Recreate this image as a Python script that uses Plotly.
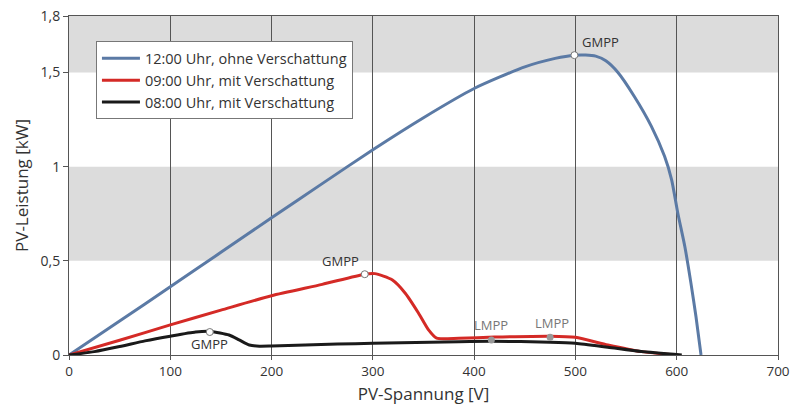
import plotly.graph_objects as go

# --- data ---
v_blue = [0, 50, 100, 150, 200, 250, 300, 350, 400, 450, 480, 499, 510, 520, 530, 542, 558, 575, 588, 595, 601, 608, 614, 619, 624]
p_blue = [0, 0.18, 0.362, 0.545, 0.729, 0.91, 1.09, 1.26, 1.415, 1.53, 1.575, 1.592, 1.593, 1.587, 1.562, 1.5, 1.374, 1.214, 1.055, 0.93, 0.755, 0.576, 0.383, 0.204, 0]

v_red = [0, 50, 100, 150, 200, 250, 292, 302, 319, 332, 345, 355, 363, 385, 420, 475, 500, 532, 565, 600]
p_red = [0, 0.078, 0.16, 0.238, 0.315, 0.375, 0.429, 0.432, 0.399, 0.328, 0.223, 0.133, 0.089, 0.089, 0.095, 0.1, 0.094, 0.053, 0.018, 0]

v_black = [0, 25, 50, 75, 100, 125, 140, 158, 168, 178, 188, 200, 265, 300, 385, 417, 475, 500, 532, 565, 605]
p_black = [0, 0.018, 0.045, 0.075, 0.1, 0.122, 0.125, 0.106, 0.08, 0.053, 0.047, 0.048, 0.058, 0.062, 0.071, 0.073, 0.068, 0.062, 0.041, 0.018, 0]

names = ["12:00 Uhr, ohne Verschattung", "09:00 Uhr, mit Verschattung", "08:00 Uhr, mit Verschattung"]
colors = ["#5b7aa5", "#d42a26", "#1a1a1a"]

gmpp_v = [499, 292, 139]
gmpp_p = [1.592, 0.429, 0.122]
lmpp_v = [417, 475]
lmpp_p = [0.079, 0.094]

x_ticks = [0, 100, 200, 300, 400, 500, 600, 700]
y_ticks = [0, 0.5, 1, 1.5, 1.8]
y_labels = ["0", "0,5", "1", "1,5", "1,8"]
bands = [(0.5, 1.0), (1.5, 1.8)]

FONT = "Open Sans"
TXT = "#333333"

fig = go.Figure()
for v, p, n, c in [(v_blue, p_blue, names[0], colors[0]),
                   (v_red, p_red, names[1], colors[1]),
                   (v_black, p_black, names[2], colors[2])]:
    fig.add_trace(go.Scatter(x=v, y=p, mode="lines", name=n,
                             line=dict(color=c, width=3, shape="spline", smoothing=0.6)))

fig.add_trace(go.Scatter(x=gmpp_v, y=gmpp_p, mode="markers", showlegend=False,
                         marker=dict(size=7, color="white", line=dict(color="#777777", width=1))))
fig.add_trace(go.Scatter(x=lmpp_v, y=lmpp_p, mode="markers", showlegend=False,
                         marker=dict(size=7, color="#999999", line=dict(color="#999999", width=0))))

for y0, y1 in bands:
    fig.add_shape(type="rect", xref="x", yref="y", x0=0, x1=700, y0=y0, y1=y1,
                  fillcolor="#dcdcdc", line_width=0, layer="below")

ann = [
    (gmpp_v[0], gmpp_p[0], "GMPP", "left", "bottom", 6, 2, TXT),
    (gmpp_v[1], gmpp_p[1], "GMPP", "right", "bottom", -4, 2, TXT),
    (gmpp_v[2], gmpp_p[2], "GMPP", "center", "top", 0, -1, TXT),
    (lmpp_v[0], lmpp_p[0], "LMPP", "center", "bottom", 0, 4, "#777777"),
    (lmpp_v[1], lmpp_p[1], "LMPP", "center", "bottom", 2, 3, "#777777"),
]
for x, y, t, xa, ya, dx, dy, col in ann:
    fig.add_annotation(x=x, y=y, text=t, showarrow=False, xanchor=xa, yanchor=ya,
                       xshift=dx, yshift=dy, font=dict(family=FONT, size=13, color=col))

fig.update_layout(
    width=791, height=405,
    margin=dict(l=69, r=13, t=16, b=50),
    plot_bgcolor="white", paper_bgcolor="white",
    font=dict(family=FONT, size=13, color=TXT),
    legend=dict(x=0.038, y=0.925, xanchor="left", yanchor="top",
                bgcolor="white", bordercolor="#777777", borderwidth=1,
                itemwidth=38,
                font=dict(family=FONT, size=14.5, color=TXT), tracegroupgap=0),
    xaxis=dict(range=[0, 700], tickvals=x_ticks, showgrid=True, gridcolor="#555555",
               gridwidth=1, showline=True, linecolor="#555555", mirror=True,
               ticks="outside", ticklen=4, tickcolor="#555555", zeroline=False, automargin=False,
               ticklabeloverflow="allow",
               tickfont=dict(family=FONT, size=13.5, color=TXT),
               title=dict(text="PV-Spannung [V]", font=dict(family=FONT, size=17, color=TXT), standoff=9)),
    yaxis=dict(range=[0, 1.8], tickvals=y_ticks, ticktext=y_labels, showgrid=False,
               showline=True, linecolor="#555555", mirror=True, ticks="outside",
               ticklen=5, tickcolor="#555555", zeroline=False, automargin=False,
               ticklabeloverflow="allow",
               tickfont=dict(family=FONT, size=14, color=TXT),
               title=dict(text="PV-Leistung [kW]", font=dict(family=FONT, size=17, color=TXT), standoff=7)),
)

fig.write_html("out.html", config={"displayModeBar": False},
               post_script="document.body.style.margin='0';document.body.style.overflow='hidden';")
